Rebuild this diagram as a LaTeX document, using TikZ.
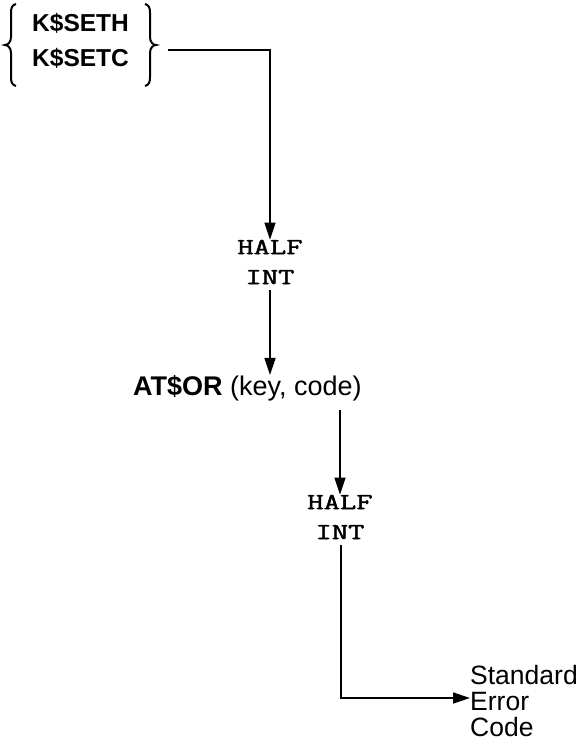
\documentclass[tikz,border=0pt]{standalone}
\usepackage{fontspec}
\setmainfont{Liberation Sans}
\newfontfamily\tyf[FakeBold=1.6]{Latin Modern Mono}
\usetikzlibrary{arrows.meta}
\begin{document}
\begin{tikzpicture}[x=1pt,y=-1pt,
  conn/.style={line width=1.5pt,-{Triangle[length=17pt,width=11pt]}},
  brace/.style={line width=2pt},
  sans/.style={font=\fontsize{26.5}{26}\selectfont, inner sep=0pt, align=left},
  mono/.style={font=\tyf\fontsize{23}{30}\selectfont, inner sep=0pt, align=center}]
\useasboundingbox (0,0) rectangle (586,741);
\node[inner sep=0pt, align=left, font=\bfseries\fontsize{24.5}{35}\selectfont, anchor=west] (src) at (32,41) {K\$SETH\\K\$SETC};
\draw[brace] (16,4) .. controls (12,5) and (11,8) .. (11,13) -- (11,37) .. controls (11,42) and (8,45) .. (5,45)
  .. controls (8,45) and (11,48) .. (11,53) -- (11,77) .. controls (11,82) and (12,85) .. (16,86);
\draw[brace] (145,4) .. controls (149,5) and (150,8) .. (150,13) -- (150,37) .. controls (150,42) and (153,45) .. (156,45)
  .. controls (153,45) and (150,48) .. (150,53) -- (150,77) .. controls (150,82) and (149,85) .. (145,86);
\coordinate (c1) at (168,50);
\coordinate (k1) at (270,50);
\node[mono] (h1) at (270,262) {\scalebox{1.38}[1]{HALF}\\\scalebox{1.38}[1]{INT}};
\node[sans, anchor=west, font=\fontsize{27}{30}\selectfont] (at) at (133,388) {\textbf{AT\$OR} (key, code)};
\coordinate (a1) at (340,410);
\node[mono] (h2) at (340,517) {\scalebox{1.38}[1]{HALF}\\\scalebox{1.38}[1]{INT}};
\coordinate (k2) at (341,698);
\node[sans, anchor=west] (sec) at (470,701) {Standard\\Error\\Code};
\draw[conn] (c1) -- (k1) -- (h1.north -| k1);
\draw[conn] (h1.south) ++(0,6) -- (at.north -| h1);
\draw[conn] (a1) -- (h2.north -| a1);
\draw[conn] (h2.south -| k2) ++(0,6) -- (k2) -- (sec.west |- k2);
\end{tikzpicture}
\end{document}
